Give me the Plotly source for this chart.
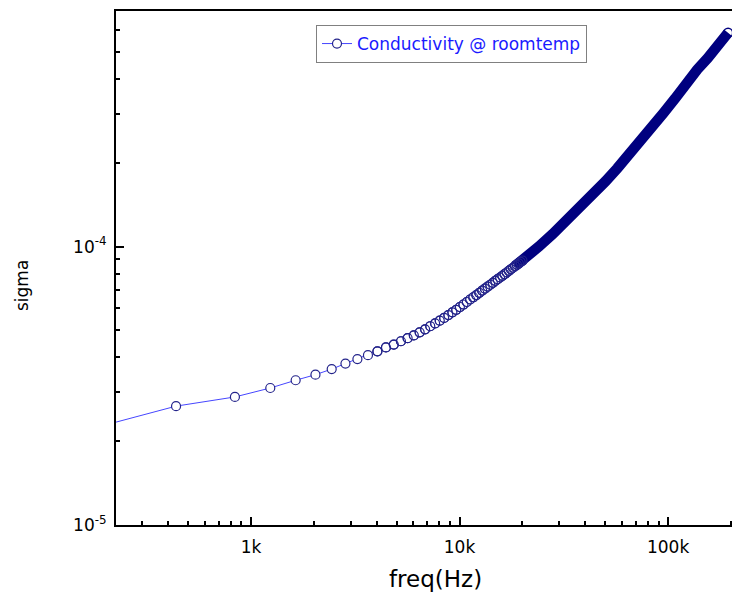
import plotly.graph_objects as go

# ---- data (frequency in Hz, conductivity sigma) ----
SWEEP_FREQ_HZ = [37, 437, 837, 1237, 1637, 2037, 2437, 2837, 3237, 3637,
                 4037, 4437, 4837, 5237, 5637, 6037, 6437, 6837, 7237, 7637,
                 8037, 8437, 8837, 9237, 9637, 10037, 10437, 10837, 11237, 11637,
                 12037, 12437, 12837, 13237, 13637, 14037, 14437, 14837, 15237, 15637,
                 16037, 16437, 16837, 17237, 17637, 18037, 18437, 18837, 19237, 19637,
                 20037]
SWEEP_SIGMA = [1.633e-5, 2.673e-5, 2.884e-5, 3.105e-5, 3.311e-5, 3.467e-5, 3.631e-5, 3.802e-5, 3.945e-5, 4.074e-5,
               4.207e-5, 4.345e-5, 4.446e-5, 4.571e-5, 4.688e-5, 4.797e-5, 4.920e-5, 5.047e-5, 5.176e-5, 5.297e-5,
               5.420e-5, 5.546e-5, 5.675e-5, 5.808e-5, 5.929e-5, 6.067e-5, 6.194e-5, 6.324e-5, 6.457e-5, 6.577e-5,
               6.699e-5, 6.823e-5, 6.950e-5, 7.063e-5, 7.178e-5, 7.295e-5, 7.413e-5, 7.534e-5, 7.638e-5, 7.745e-5,
               7.852e-5, 7.962e-5, 8.072e-5, 8.185e-5, 8.299e-5, 8.395e-5, 8.511e-5, 8.610e-5, 8.710e-5, 8.810e-5,
               8.913e-5]
HIGH_FREQ_HZ = [24000, 28000, 33000, 38000, 44000, 50000, 57000, 65000, 74000, 84000,
                95000, 108000, 122000, 138000, 155000, 174000, 194000]
HIGH_SIGMA = [1.000e-4, 1.110e-4, 1.246e-4, 1.383e-4, 1.548e-4, 1.713e-4, 1.909e-4, 2.134e-4, 2.391e-4, 2.692e-4,
              3.018e-4, 3.401e-4, 3.861e-4, 4.326e-4, 4.759e-4, 5.299e-4, 5.864e-4]

X_TICK_VALS = [1000, 10000, 100000]
X_TICK_TEXT = ["1k", "10k", "100k"]
X_MINOR_VALS = [300, 400, 500, 600, 700, 800, 900,
                2000, 3000, 4000, 5000, 6000, 7000, 8000, 9000,
                20000, 30000, 40000, 50000, 60000, 70000, 80000, 90000, 200000]
Y_TICK_VALS = [1e-5, 1e-4]
Y_TICK_TEXT = ["10<sup>-5</sup>", "10<sup>-4</sup>"]
Y_MINOR_VALS = [2e-5, 3e-5, 4e-5, 5e-5, 6e-5, 7e-5, 8e-5, 9e-5,
                2e-4, 3e-4, 4e-4, 5e-4, 6e-4, 7e-4]

SERIES_NAME = "Conductivity @ roomtemp"
X_TITLE = "freq(Hz)"
Y_TITLE = "sigma"

FONT = "DejaVu Sans, Liberation Sans, Arial, sans-serif"
NAVY = "#00007f"
MARKER_EDGE = "#23238a"
DENSE_START = 10   # index where the sweep markers start to overlap
BAND_START = 46    # index where the overlapping markers merge into a solid band

fig = go.Figure()

# line + white-filled circles (legend entry)
fig.add_trace(go.Scatter(
    x=SWEEP_FREQ_HZ, y=SWEEP_SIGMA, name=SERIES_NAME,
    mode="lines+markers",
    line=dict(color="rgb(70,70,255)", width=1),
    marker=dict(symbol="circle", size=9, color="white",
                line=dict(color=MARKER_EDGE, width=1.2)),
))

# dense high-frequency part: overlapping circles form a solid band
fig.add_trace(go.Scatter(
    x=SWEEP_FREQ_HZ[BAND_START:] + HIGH_FREQ_HZ,
    y=SWEEP_SIGMA[BAND_START:] + HIGH_SIGMA,
    mode="lines", showlegend=False, hoverinfo="skip",
    line=dict(color=NAVY, width=10.5),
))

# open circles in the overlapping region (arcs cross like a chain)
fig.add_trace(go.Scatter(
    x=SWEEP_FREQ_HZ[DENSE_START:], y=SWEEP_SIGMA[DENSE_START:],
    mode="markers", showlegend=False, hoverinfo="skip",
    marker=dict(symbol="circle-open", size=9, color=MARKER_EDGE, line=dict(width=1.2)),
))

# last measured point
fig.add_trace(go.Scatter(
    x=HIGH_FREQ_HZ[-1:], y=HIGH_SIGMA[-1:], mode="markers", showlegend=False,
    hoverinfo="skip",
    marker=dict(symbol="circle-open", size=9, color=NAVY, line=dict(width=1.3)),
))

axis_common = dict(
    type="log", showgrid=False, zeroline=False,
    showline=True, linecolor="black", linewidth=2,
    ticks="inside", ticklen=8, tickwidth=1.5, tickcolor="black",
    tickfont=dict(family=FONT, size=17, color="black"),
)

fig.update_xaxes(
    **axis_common, range=[2.3525, 5.3066], mirror=True,
    tickmode="array", tickvals=X_TICK_VALS, ticktext=X_TICK_TEXT,
    ticklabelstandoff=6,
    minor=dict(tickmode="array", tickvals=X_MINOR_VALS, ticks="inside",
               ticklen=4, tickwidth=1.5, tickcolor="black", showgrid=False),
)
fig.update_yaxes(
    **axis_common, range=[-5, -3.1537], mirror=False,
    tickmode="array", tickvals=Y_TICK_VALS, ticktext=Y_TICK_TEXT,
    ticklabelstandoff=4,
    minor=dict(tickmode="array", tickvals=Y_MINOR_VALS, ticks="inside",
               ticklen=4, tickwidth=1.5, tickcolor="black", showgrid=False),
)

fig.add_annotation(text=X_TITLE, xref="paper", yref="paper",
                   x=(435 - 116) / 616, y=-(579 - 525) / 514,
                   xanchor="center", yanchor="middle", showarrow=False,
                   font=dict(family=FONT, size=23, color="black"))
fig.add_annotation(text=Y_TITLE, xref="paper", yref="paper",
                   x=-(116 - 22) / 616, y=(525 - 286) / 514,
                   xanchor="center", yanchor="middle", showarrow=False, textangle=-90,
                   font=dict(family=FONT, size=17, color="black"))

fig.update_layout(
    width=732, height=598,
    margin=dict(l=116, r=0, t=11, b=73),
    paper_bgcolor="white", plot_bgcolor="white",
    showlegend=True,
    legend=dict(x=(316 - 116) / 616, y=(525 - 25) / 514, xanchor="left", yanchor="top",
                bgcolor="white", bordercolor="#808080", borderwidth=1,
                font=dict(family=FONT, size=17, color="#1a1aff"),
                itemwidth=30, tracegroupgap=0),
)

fig.write_html(
    "out.html",
    config={"displayModeBar": False},
    post_script="document.body.style.margin='0';document.body.style.overflow='hidden';",
)
